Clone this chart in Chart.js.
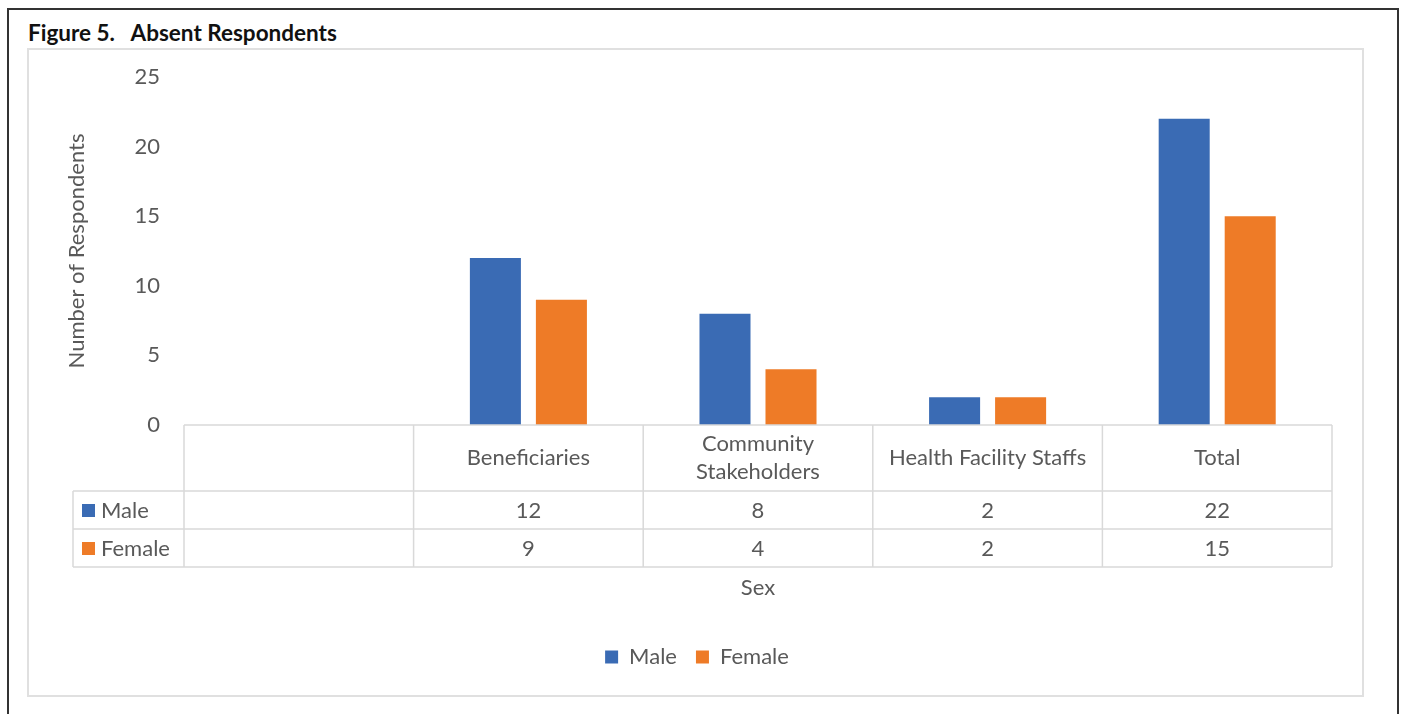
<!DOCTYPE html>
<html>
<head>
<meta charset="utf-8">
<script src="https://cdn.jsdelivr.net/npm/chart.js@4"></script>
<style>
  body { margin: 0; background: #fff; }
  #wrap { position: relative; width: 1402px; height: 714px; overflow: hidden; }
  .frame { position: absolute; left: 7px; top: 8px; width: 1388px; height: 720px; border: 2px solid #333; }
  .chartBox { position: absolute; left: 27px; top: 48px; width: 1333px; height: 645px; border: 2px solid #e0e0e0; }
  .titulo { position: absolute; left: 28px; top: 19px; font: bold 22.5px Lato, "Open Sans", sans-serif; color: #111; white-space: pre; }
  canvas { position: absolute; left: 0; top: 0; }
</style>
</head>
<body>
<div id="wrap">
  <div class="frame"></div>
  <div class="chartBox"></div>
  <div class="titulo">Figure 5.   Absent Respondents</div>
  <canvas id="grafico" width="1402" height="714"></canvas>
</div>
<script>
// Categorias (la primera columna va vacia, como en la hoja original)
const categorias = ['', 'Beneficiaries', ['Community', 'Stakeholders'], 'Health Facility Staffs', 'Total'];
const hombres = [null, 12, 8, 2, 22];
const mujeres = [null, 9, 4, 2, 15];
const ticksY = [0, 5, 10, 15, 20, 25];

const colorHombre = '#3a6bb4';
const colorMujer = '#ee7b27';
const gris = '#595959';
const lineaTabla = '#d9d9d9';
const fuente = 'Lato, "Open Sans", sans-serif';
const tam = 22;

// Dibuja la tabla de datos bajo el eje X usando las posiciones de la escala
const tablaDatos = {
    id: 'tablaDatos',
    afterDraw(chart) {
        const ctx = chart.ctx;
        const x = chart.scales.x;
        const area = chart.chartArea;
        const n = categorias.length;
        const ancho = (area.right - area.left) / n;
        const y0 = area.bottom;
        const y1 = y0 + 66;
        const y2 = y1 + 38;
        const y3 = y2 + 38;
        const izq = 73;

        ctx.save();
        ctx.strokeStyle = lineaTabla;
        ctx.lineWidth = 1.5;
        ctx.beginPath();
        // horizontales
        ctx.moveTo(area.left, y0); ctx.lineTo(area.right, y0);
        ctx.moveTo(izq, y1); ctx.lineTo(area.right, y1);
        ctx.moveTo(izq, y2); ctx.lineTo(area.right, y2);
        ctx.moveTo(izq, y3); ctx.lineTo(area.right, y3);
        // verticales
        ctx.moveTo(izq, y1); ctx.lineTo(izq, y3);
        for (let i = 0; i < n; i++) {
            const bx = x.getPixelForValue(i) - ancho / 2;
            ctx.moveTo(bx, y0); ctx.lineTo(bx, y3);
        }
        ctx.moveTo(area.right, y0); ctx.lineTo(area.right, y3);
        ctx.stroke();

        ctx.fillStyle = gris;
        ctx.font = tam + 'px ' + fuente;
        ctx.textAlign = 'center';
        ctx.textBaseline = 'middle';
        categorias.forEach((cat, i) => {
            const cx = x.getPixelForValue(i);
            if (Array.isArray(cat)) {
                ctx.fillText(cat[0], cx, y0 + 19);
                ctx.fillText(cat[1], cx, y0 + 47);
            } else {
                ctx.fillText(cat, cx, (y0 + y1) / 2);
            }
            if (hombres[i] !== null) ctx.fillText(String(hombres[i]), cx, (y1 + y2) / 2 + 1);
            if (mujeres[i] !== null) ctx.fillText(String(mujeres[i]), cx, (y2 + y3) / 2 + 1);
        });

        // claves de la leyenda en la tabla
        const series = [['Male', colorHombre, y1, y2], ['Female', colorMujer, y2, y3]];
        ctx.textAlign = 'left';
        series.forEach(s => {
            const cy = (s[2] + s[3]) / 2;
            ctx.fillStyle = s[1];
            ctx.fillRect(82, cy - 6, 13, 13);
            ctx.fillStyle = gris;
            ctx.fillText(s[0], 101, cy + 1);
        });
        ctx.restore();
    }
};

const ctx = document.getElementById('grafico').getContext('2d');
const grafico = new Chart(ctx, {
    type: 'bar',
    data: {
        labels: categorias,
        datasets: [
            { label: 'Male', data: hombres, backgroundColor: colorHombre },
            { label: 'Female', data: mujeres, backgroundColor: colorMujer }
        ]
    },
    options: {
        responsive: false,
        animation: false,
        categoryPercentage: 0.575,
        barPercentage: 0.773,
        layout: { padding: { top: 77, right: 70, bottom: 36, left: 62 } },
        plugins: {
            tooltip: { enabled: false },
            legend: {
                position: 'bottom',
                labels: {
                    color: gris,
                    font: { family: fuente, size: tam },
                    boxWidth: 13,
                    boxHeight: 13,
                    padding: 19
                }
            }
        },
        scales: {
            x: {
                grid: { display: false },
                border: { display: false },
                ticks: { display: false },
                title: {
                    display: true,
                    text: 'Sex',
                    color: gris,
                    font: { family: fuente, size: tam },
                    padding: { top: 0, bottom: 26 }
                },
                afterFit(scale) { scale.height = 202; }
            },
            y: {
                min: 0,
                max: 25,
                grid: { display: false, drawTicks: false },
                border: { display: false },
                afterBuildTicks(scale) { scale.ticks = ticksY.map(v => ({ value: v })); },
                ticks: {
                    color: gris,
                    padding: 24,
                    font: { family: fuente, size: tam }
                },
                title: {
                    display: true,
                    text: 'Number of Respondents',
                    color: gris,
                    font: { family: fuente, size: tam },
                    padding: { top: 2, bottom: 0 }
                },
                afterFit(scale) { scale.width = 122; }
            }
        }
    },
    plugins: [tablaDatos]
});
</script>
</body>
</html>
